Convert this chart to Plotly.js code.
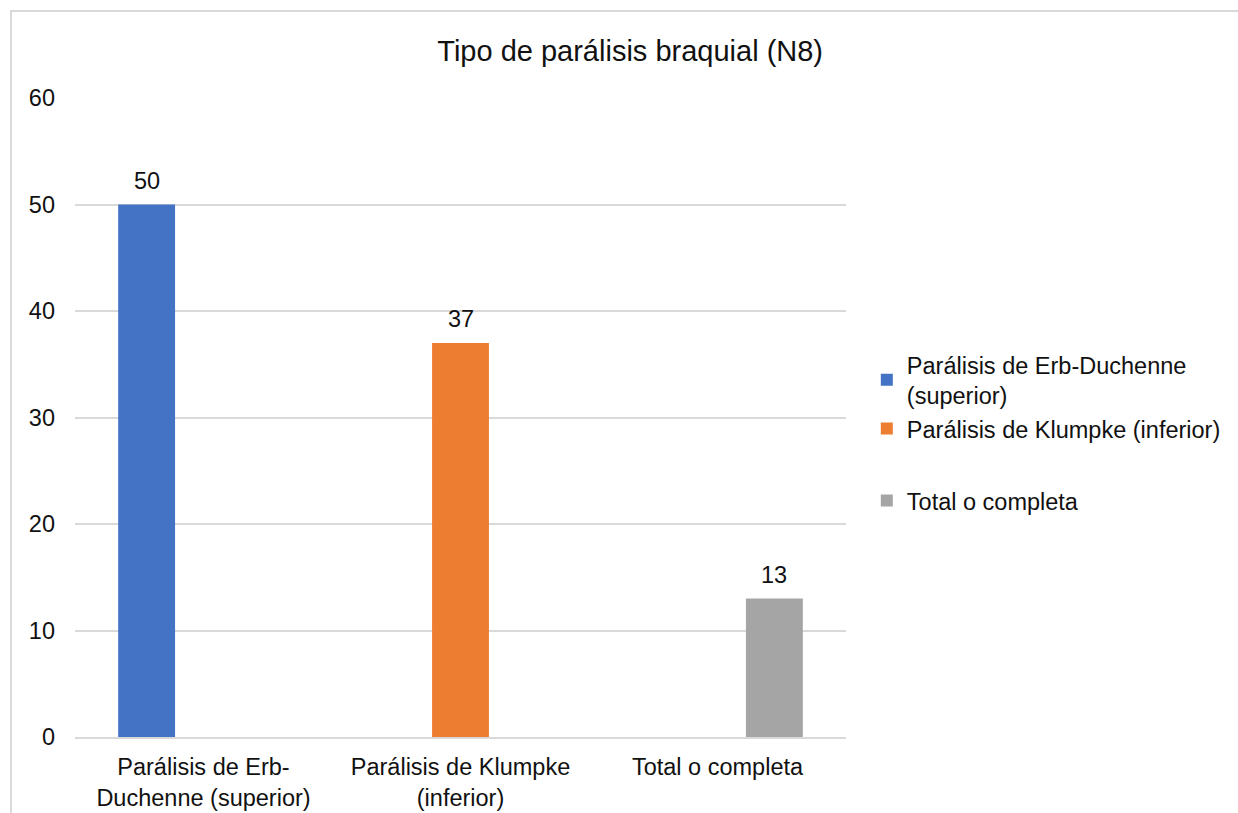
<!DOCTYPE html>
<html>
<head>
<meta charset="utf-8">
<script src="https://cdn.plot.ly/plotly-3.0.1.min.js"></script>
<style>
  html, body { margin: 0; padding: 0; overflow: hidden; background: #fff; }
  #chart { position: absolute; left: 0; top: 0; width: 1238px; height: 813px; }
  #frame { position: absolute; left: 10px; top: 10px; width: 1240px; height: 820px;
           border-top: 2px solid #d9d9d9; border-left: 2px solid #d9d9d9; pointer-events: none; }
</style>
</head>
<body>
<div id="chart"></div>
<div id="frame"></div>
<script>
// Categories (axis tick labels) and one series per category
const categories = [
  "Parálisis de Erb-<br>Duchenne (superior)",
  "Parálisis de Klumpke<br>(inferior)",
  "Total o completa"
];
const seriesNames = [
  "Parálisis de Erb-Duchenne<br>(superior)",
  "Parálisis de Klumpke (inferior)",
  "Total o completa"
];
const erbValues = [50, null, null];
const klumpkeValues = [null, 37, null];
const totalValues = [null, null, 13];
const colors = ["#4472c4", "#ed7d31", "#a5a5a5"];

const FONT = "Liberation Sans, Arial, sans-serif";
const TEXT_COLOR = "#111";
const LABEL_SIZE = 23.5;
const BARGAP = 0.336;
const seriesValues = [erbValues, klumpkeValues, totalValues];
const nSeries = seriesValues.length;

const traces = seriesValues.map((vals, i) => ({
  type: "bar",
  name: seriesNames[i],
  x: categories,
  y: vals,
  marker: { color: colors[i] },
  legend: i === 2 ? "legend2" : "legend",
  hoverinfo: "x+y"
}));

// Value labels above each bar, placed at the bar's grouped slot on the category axis
const slotWidth = (1 - BARGAP) / nSeries;
const valueLabels = [];
seriesValues.forEach((vals, s) => {
  vals.forEach((v, c) => {
    if (v === null) return;
    valueLabels.push({
      x: c + (s - (nSeries - 1) / 2) * slotWidth,
      y: v,
      xref: "x", yref: "y",
      text: String(v),
      showarrow: false,
      yanchor: "bottom",
      yshift: 9,
      font: { family: FONT, size: LABEL_SIZE, color: TEXT_COLOR }
    });
  });
});

const layout = {
  width: 1238,
  height: 813,
  margin: { l: 75, r: 388, t: 98, b: 76 },
  paper_bgcolor: "#fff",
  plot_bgcolor: "#fff",
  barmode: "group",
  bargap: BARGAP,
  bargroupgap: 0,
  font: { family: FONT, size: LABEL_SIZE, color: TEXT_COLOR },
  title: {
    text: "Tipo de parálisis braquial (N8)",
    font: { family: FONT, size: 29, color: TEXT_COLOR },
    x: 0.509, xanchor: "center", xref: "container",
    y: 0.938, yanchor: "middle", yref: "container"
  },
  xaxis: {
    type: "category",
    range: [-0.5, 2.5],
    showgrid: false,
    showline: true,
    linecolor: "#d9d9d9",
    linewidth: 2,
    ticks: "",
    ticklabelstandoff: 8,
    tickfont: { family: FONT, size: LABEL_SIZE, color: TEXT_COLOR }
  },
  yaxis: {
    range: [0, 60],
    dtick: 10,
    tick0: 0,
    showgrid: true,
    gridcolor: "#d9d9d9",
    gridwidth: 2,
    zeroline: false,
    showline: false,
    ticks: "",
    ticklabelstandoff: 19,
    tickfont: { family: FONT, size: LABEL_SIZE, color: TEXT_COLOR }
  },
  legend: {
    x: 1.027, xanchor: "left",
    y: 0.617, yanchor: "top",
    font: { family: FONT, size: LABEL_SIZE, color: TEXT_COLOR },
    bgcolor: "rgba(0,0,0,0)",
    tracegroupgap: 0
  },
  legend2: {
    x: 1.027, xanchor: "left",
    y: 0.404, yanchor: "top",
    font: { family: FONT, size: LABEL_SIZE, color: TEXT_COLOR },
    bgcolor: "rgba(0,0,0,0)"
  },
  annotations: valueLabels,
  showlegend: true
};

Plotly.newPlot("chart", traces, layout, { displayModeBar: false, staticPlot: true });
</script>
</body>
</html>
